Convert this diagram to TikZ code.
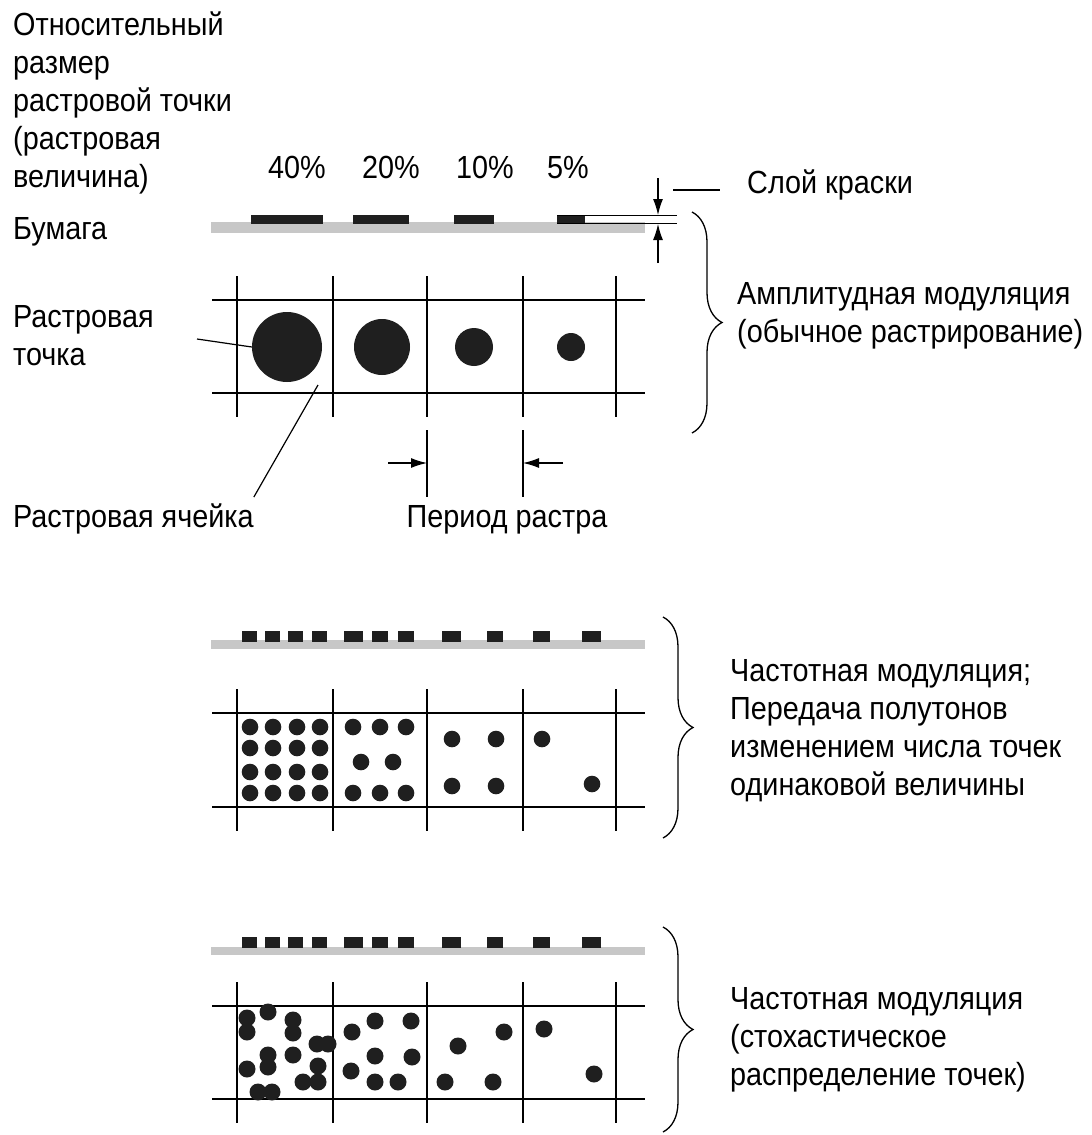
\documentclass[tikz,border=0pt]{standalone}
\usepackage{fontspec}
\setmainfont{Liberation Sans}[FakeStretch=0.9]
\usetikzlibrary{arrows.meta,decorations.pathreplacing}

\tikzset{
  lbl/.style={anchor=base west, align=left, inner sep=0pt, font=\fontsize{32}{38}\selectfont},
  paper/.style={fill=black!22},
  ink/.style={fill=black!88},
  gridline/.style={line width=1.8pt},
  thinline/.style={line width=1.2pt},
  rdot/.style={circle, fill=black!88, inner sep=0pt, minimum size=#1},
  brc/.style={decorate, decoration={brace, amplitude=30pt}, line width=1.3pt},
  dimarrow/.style={-{Latex[length=16pt,width=10pt]}, line width=1.2pt}
}

\begin{document}
\begin{tikzpicture}[x=1pt,y=-1pt]
\useasboundingbox (0,0) rectangle (1092,1135);

% amplitudnaya modulyaciya
\node[lbl] (relsize) at (13,187) {Относительный\\размер\\растровой точки\\(растровая\\величина)};
\node[lbl] (paper) at (13,239) {Бумага};
\foreach \x/\p in {297/40,391/20,485/10,568/5}
  \node[lbl, anchor=base] (pct\p) at (\x,178) {\p\%};

\fill[paper] (211,222) rectangle (645,233);
\fill[ink] (251,215) rectangle (323,224);
\fill[ink] (353,215) rectangle (409,224);
\fill[ink] (454,215) rectangle (494,224);
\fill[ink] (557,215) rectangle (585,224);
\draw[thinline] (557,215.5) -- (677,215.5);
\draw[thinline] (557,223.5) -- (677,223.5);

% sloy kraski
\coordinate (inktop) at (658,215);
\coordinate (inkbot) at (658,224);
\draw[dimarrow] ([yshift=37pt]inktop) -- (inktop);
\draw[dimarrow] ([yshift=-39pt]inkbot) -- (inkbot);
\node[lbl] (inklbl) at (747,193) {Слой краски};
\coordinate (inklead) at (673,190);
\draw[thinline] (inklead) -- ([xshift=-27pt,yshift=3pt]inklbl.base west);

\foreach \x in {237,333,427,523,616} \draw[gridline] (\x,276) -- (\x,417);
\foreach \y in {300,393} \draw[gridline] (212,\y) -- (645,\y);

\node[rdot=70pt] (dot40) at (287,347) {};
\node[rdot=56pt] (dot20) at (382,347) {};
\node[rdot=38pt] (dot10) at (474,347) {};
\node[rdot=28pt] (dot5) at (571,347) {};

\node[lbl] (dotlbl) at (13,365) {Растровая\\точка};
\coordinate (dotlead) at (197,339);
\draw[thinline] (dotlead) -- (dot40.west);

\node[lbl] (celllbl) at (13,527) {Растровая ячейка};
\coordinate (cellpt) at (318,385);
\draw[thinline] (cellpt) -- ([yshift=6pt]celllbl.north east);

% period rastra
\coordinate (perl) at (427,463);
\coordinate (perr) at (523,463);
\foreach \x in {427,523} \draw[thinline] (\x,430) -- (\x,497);
\draw[dimarrow] ([xshift=-39pt]perl) -- (perl);
\draw[dimarrow] ([xshift=40pt]perr) -- (perr);
\node[lbl, anchor=base] (perlbl) at (507,527) {Период растра};

\draw[brc] (692,212) -- (692,433);
\node[lbl] (amlbl) at (737,342) {Амплитудная модуляция\\(обычное растрирование)};

% chastotnaya modulyaciya
\fill[paper] (211,640) rectangle (645,649);
\fill[paper] (211,947) rectangle (645,955);
\foreach \a/\b in {242/257,265/280,288/303,312/327,344/363,372/388,398/414,442/461,487/503,533/550,582/601}{
  \fill[ink] (\a,631) rectangle (\b,642);
  \fill[ink] (\a,937) rectangle (\b,948);
}

\foreach \x in {237,333,427,523,616}{
  \draw[gridline] (\x,689) -- (\x,831);
  \draw[gridline] (\x,982) -- (\x,1123);
}
\foreach \y in {713,807,1006,1099} \draw[gridline] (212,\y) -- (645,\y);

\foreach \x in {250,273,297,320}
  \foreach \y in {727,748,772,793}
    \fill[ink] (\x,\y) circle (8.3pt);
\foreach \x/\y in {353/727,380/727,406/727,361/762,393/762,353/793,380/793,406/793,
  452/739,496/739,452/786,496/786,542/739,592/784}
  \fill[ink] (\x,\y) circle (8.3pt);

\draw[brc] (663,617) -- (663,838);
\node[lbl] (fmlbl) at (730,795) {Частотная модуляция;\\Передача полутонов\\изменением числа точек\\одинаковой величины};

% stohasticheskoe
\foreach \x/\y in {247/1018,247/1032,268/1012,293/1020,293/1033,317/1044,328/1044,
  268/1055,268/1067,293/1055,247/1069,318/1066,303/1082,318/1082,258/1092,272/1092,
  352/1032,375/1021,411/1021,375/1056,412/1057,351/1071,375/1082,398/1082,
  458/1046,504/1032,445/1082,493/1082,544/1029,594/1074}
  \fill[ink] (\x,\y) circle (8.5pt);

\draw[brc] (663,927) -- (663,1132);
\node[lbl] (stlbl) at (730,1085) {Частотная модуляция\\(стохастическое\\распределение точек)};
\end{tikzpicture}
\end{document}
